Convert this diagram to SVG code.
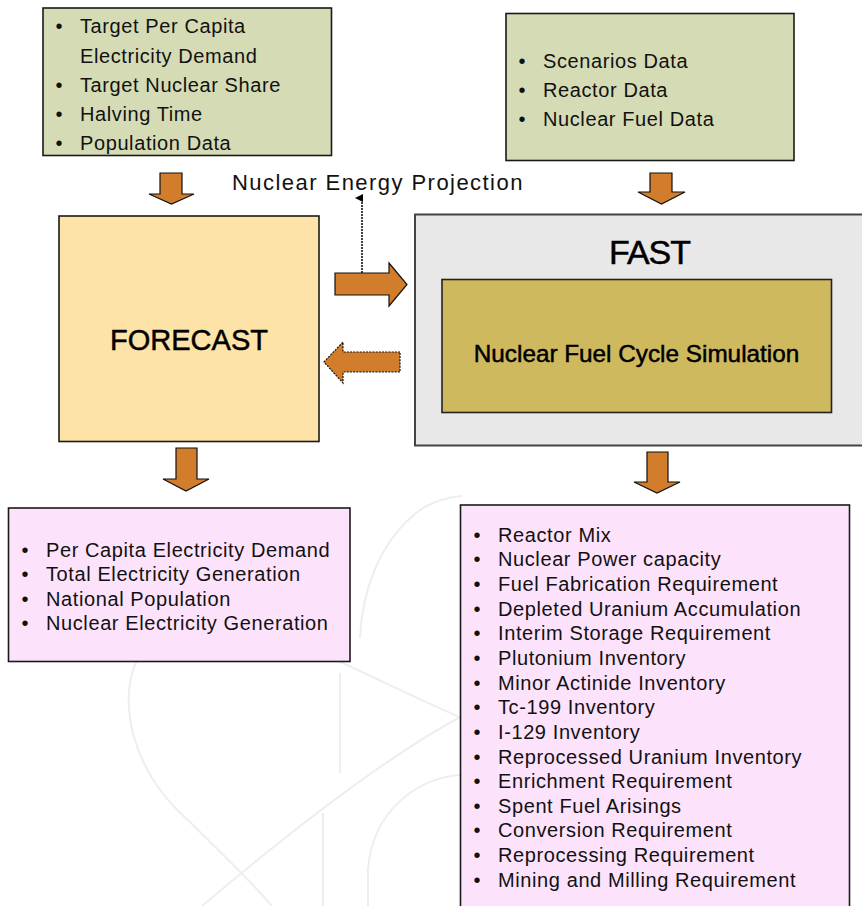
<svg xmlns="http://www.w3.org/2000/svg" width="862" height="906" viewBox="0 0 862 906">
<style>
.box{stroke:#1a1a1a;stroke-width:1.6}
.green{fill:#d5dcb5}
.pink{fill:#fde2fc}
.t{font-family:"Liberation Sans",Arial,sans-serif;font-size:20px;fill:#111;letter-spacing:0.6px}
.b{font-family:"Liberation Sans",Arial,sans-serif;font-size:20px;fill:#111;text-anchor:middle}
.title{font-family:"Liberation Sans",Arial,sans-serif;fill:#000;stroke:#000;stroke-width:0.5;text-anchor:middle}
.arrow{fill:#d17d2c;stroke:#111;stroke-width:1.2;stroke-linejoin:miter}
.wm{fill:none;stroke:#eeeeee;stroke-width:2}
</style>
<defs>
<marker id="ah" markerWidth="8" markerHeight="8" refX="4" refY="7" orient="auto-start-reverse" markerUnits="userSpaceOnUse" viewBox="0 0 8 8">
<path d="M0,8 L4,0 L8,8 Z" fill="#000"/>
</marker>
</defs>
<rect width="862" height="906" fill="#fff"/>
<g id="watermark">
<path class="wm" d="M137,660 C118,700 130,770 190,822 C220,852 250,880 272,906"/>
<path class="wm" d="M202,906 C280,840 380,760 462,716"/>
<path class="wm" d="M336,660 C380,680 420,700 462,718"/>
<path class="wm" d="M323,813 L323,906" stroke-width="1.5"/>
<path class="wm" d="M340,673 L340,773" stroke-width="1" stroke="#f5f5f5"/>
<path class="wm" d="M360,638 C362,590 380,540 420,510 C435,500 448,497 462,496" stroke-width="6" stroke="#ededed"/>
<path class="wm" d="M462,775 C420,776 372,810 368,870 L368,906" stroke-width="10" stroke="#efefef"/>
</g>
<g id="inputs-forecast">
<rect class="box green" x="43" y="8" width="288.5" height="147.5"/>
<text class="b" x="59" y="33">•</text><text class="t" x="80" y="33">Target Per Capita</text>
<text class="t" x="80" y="62.5">Electricity Demand</text>
<text class="b" x="59" y="92">•</text><text class="t" x="80" y="92">Target Nuclear Share</text>
<text class="b" x="59" y="121">•</text><text class="t" x="80" y="121">Halving Time</text>
<text class="b" x="59" y="150">•</text><text class="t" x="80" y="150">Population Data</text>
</g>
<g id="inputs-fast">
<rect class="box green" x="506" y="13.5" width="288" height="147"/>
<text class="b" x="522" y="68">•</text><text class="t" x="543" y="68">Scenarios Data</text>
<text class="b" x="522" y="97">•</text><text class="t" x="543" y="97">Reactor Data</text>
<text class="b" x="522" y="126">•</text><text class="t" x="543" y="126">Nuclear Fuel Data</text>
</g>
<g id="projection-label">
<text class="t" x="232" y="189.5" style="font-size:22px;letter-spacing:1.45px">Nuclear Energy Projection</text>
</g>
<g id="forecast">
<rect class="box" x="59" y="216" width="260" height="225.5" fill="#fde3a8"/>
<text class="title" x="189" y="349.5" font-size="29">FORECAST</text>
</g>
<g id="fast">
<rect x="415" y="214.5" width="460" height="231" fill="#e8e8e8" stroke="#444" stroke-width="2"/>
<text class="title" x="649.5" y="263.5" font-size="34" letter-spacing="-1">FAST</text>
<g id="simulation">
<rect x="442" y="279.5" width="389.5" height="133" fill="#cfb95f" stroke="#222" stroke-width="1.6"/>
<text class="title" x="636.5" y="361.5" font-size="24.3">Nuclear Fuel Cycle Simulation</text>
</g>
</g>
<g id="outputs-forecast">
<rect class="box pink" x="8.5" y="508" width="341.5" height="153.5"/>
<text class="b" x="25" y="556.5">•</text><text class="t" x="46" y="556.5">Per Capita Electricity Demand</text>
<text class="b" x="25" y="581">•</text><text class="t" x="46" y="581">Total Electricity Generation</text>
<text class="b" x="25" y="605.5">•</text><text class="t" x="46" y="605.5">National Population</text>
<text class="b" x="25" y="630">•</text><text class="t" x="46" y="630">Nuclear Electricity Generation</text>
</g>
<g id="outputs-fast">
<rect class="box pink" x="460.5" y="505" width="389" height="410"/>
<g>
<text class="b" x="477" y="541.7">•</text><text class="t" x="498" y="541.7">Reactor Mix</text>
<text class="b" x="477" y="566.3">•</text><text class="t" x="498" y="566.3">Nuclear Power capacity</text>
<text class="b" x="477" y="591">•</text><text class="t" x="498" y="591">Fuel Fabrication Requirement</text>
<text class="b" x="477" y="615.6">•</text><text class="t" x="498" y="615.6">Depleted Uranium Accumulation</text>
<text class="b" x="477" y="640.3">•</text><text class="t" x="498" y="640.3">Interim Storage Requirement</text>
<text class="b" x="477" y="664.9">•</text><text class="t" x="498" y="664.9">Plutonium Inventory</text>
<text class="b" x="477" y="689.5">•</text><text class="t" x="498" y="689.5">Minor Actinide Inventory</text>
<text class="b" x="477" y="714.2">•</text><text class="t" x="498" y="714.2">Tc-199 Inventory</text>
<text class="b" x="477" y="738.8">•</text><text class="t" x="498" y="738.8">I-129 Inventory</text>
<text class="b" x="477" y="763.5">•</text><text class="t" x="498" y="763.5">Reprocessed Uranium Inventory</text>
<text class="b" x="477" y="788.1">•</text><text class="t" x="498" y="788.1">Enrichment Requirement</text>
<text class="b" x="477" y="812.7">•</text><text class="t" x="498" y="812.7">Spent Fuel Arisings</text>
<text class="b" x="477" y="837.4">•</text><text class="t" x="498" y="837.4">Conversion Requirement</text>
<text class="b" x="477" y="862">•</text><text class="t" x="498" y="862">Reprocessing Requirement</text>
<text class="b" x="477" y="886.7">•</text><text class="t" x="498" y="886.7">Mining and Milling Requirement</text>
</g>
</g>
<g id="connectors">
<path class="arrow" d="M160,173 L182,173 L182,194 L194,194 L171.5,204 L149,194 L160,194 Z"/>
<path class="arrow" d="M650,173 L672,173 L672,192 L685,192 L661.5,204 L638,192 L650,192 Z"/>
<path class="arrow" d="M176,448 L197,448 L197,479 L209,479 L186,491 L163,479 L176,479 Z"/>
<path class="arrow" d="M647,452 L668,452 L668,482 L680,482 L657,493 L634,482 L647,482 Z"/>
<path class="arrow" d="M335,273 L389,273 L389,263 L407,284.5 L389,306 L389,295 L335,295 Z"/>
<path class="arrow" d="M400,352 L343,352 L343,342 L324,362 L343,383 L343,372 L400,372 Z" stroke-dasharray="2,1.2" stroke-width="1.5"/>
<path d="M362,273 L362,198" fill="none" stroke="#000" stroke-width="1.5" stroke-dasharray="2,1" marker-end="url(#ah)"/>
</g>
</svg>
